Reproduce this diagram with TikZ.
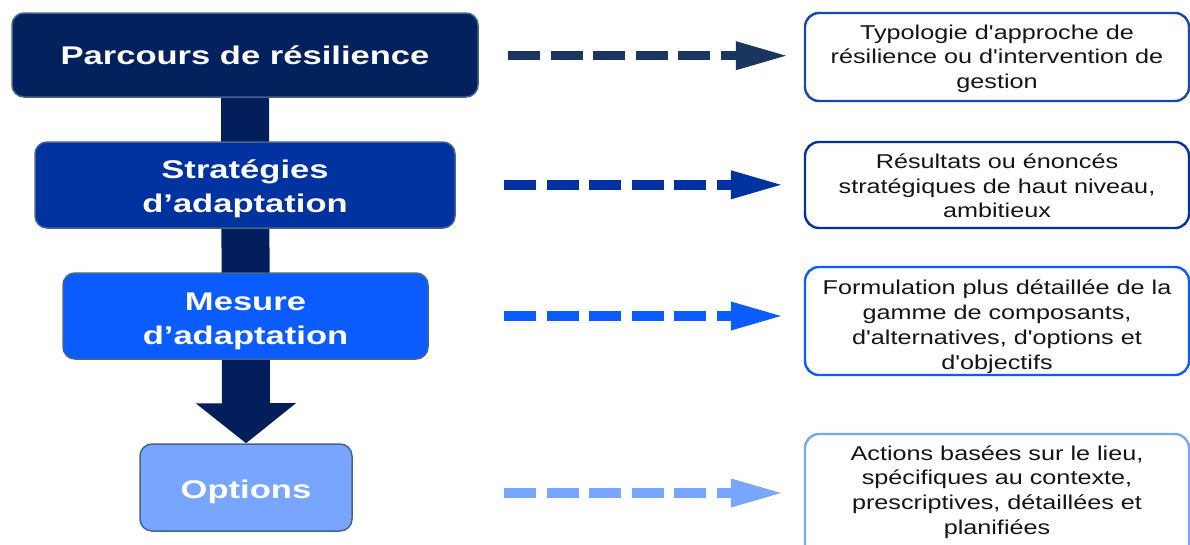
\documentclass[tikz,border=0pt]{standalone}
\usepackage{fontspec}
\setmainfont{Liberation Sans}
\newfontfamily\headfont{Liberation Sans}[FakeStretch=1.35]
\newfontfamily\notefont{Liberation Sans}[FakeStretch=1.26,Ligatures=TeXOff]
\usetikzlibrary{arrows.meta,backgrounds}

\definecolor{shaftcol}{HTML}{021F5B}
\definecolor{stageA}{HTML}{03215D}
\definecolor{stageB}{HTML}{0033A0}
\definecolor{stageC}{HTML}{0A5CFF}
\definecolor{stageD}{HTML}{78A6FF}
\definecolor{stageborder}{HTML}{45648F}
\definecolor{linkA}{HTML}{1A365E}
\definecolor{noteA}{HTML}{1747B0}
\definecolor{noteD}{HTML}{7AA7F7}
\definecolor{notetext}{HTML}{151515}

% invisible rule fixing the height of a first text line
\newcommand\firstline[1]{\rule{0pt}{#1}}

\begin{document}
\begin{tikzpicture}[x=1pt,y=-1pt,
  stage/.style={draw=stageborder, line width=1.5pt, rounded corners=12pt,
    text=white, align=center, inner sep=0pt,
    font=\headfont\bfseries\fontsize{25.6}{34}\selectfont},
  note/.style={draw=#1, line width=2.4pt, rounded corners=14pt, fill=white,
    minimum width=384pt, align=center, inner sep=0pt, text=notetext,
    font=\notefont\fontsize{20}{24.8}\selectfont},
  notetxt/.style={align=center, inner sep=0pt, text=notetext,
    font=\notefont\fontsize{20}{24.8}\selectfont},
  link/.style={draw=#1, line width=9.5pt, dash pattern=on 32pt off 10.6pt,
    -{Triangle[length=53pt,width=26pt]}},
]
\useasboundingbox (0,0) rectangle (1190,544);

% left column: the four stages
\node[stage, fill=stageA, minimum width=466pt, minimum height=84pt] (b1) at (245,55)
  {Parcours de résilience};
\node[stage, fill=stageB, minimum width=420pt, minimum height=86pt] (b2) at (245,185)
  {\firstline{26.5pt}Stratégies\\d’adaptation};
\node[stage, fill=stageC, minimum width=365pt, minimum height=86pt] (b3) at (245.5,316)
  {\firstline{27.4pt}Mesure\\d’adaptation};
\node[stage, fill=stageD, minimum width=212pt, minimum height=87pt] (b4) at (246,487.5)
  {\firstline{26.5pt}Options};

% thick downward arrow behind the stages
\begin{scope}[on background layer]
  \draw[shaftcol, line width=48pt, -{Triangle[length=40pt,width=98pt]}]
    (b1.center) -- (b4.north);
\end{scope}

% right column: descriptions
\node[note=noteA, minimum height=88pt] (r1) at (997,57)
  {\firstline{18pt}Typologie d'approche de\\résilience ou d'intervention de\\gestion};
\node[note=stageB, minimum height=86pt] (r2) at (997,185)
  {\firstline{16.5pt}Résultats ou énoncés\\stratégiques de haut niveau,\\ambitieux};
\node[note=stageC, minimum height=108pt] (r3) at (997,321)
  {\firstline{26pt}Formulation plus détaillée de la\\gamme de composants,\\d'alternatives, d'options et\\d'objectifs};
\node[note=noteD, minimum height=126pt] (r4) at (997,497) {};
\node[notetxt] (r4t) at (997,492)
  {Actions basées sur le lieu,\\spécifiques au contexte,\\prescriptives, détaillées et\\planifiées};

% dashed links
\coordinate (s1) at (508,55.7);
\coordinate (s2) at (504,184.8);
\coordinate (s3) at (504,316);
\coordinate (s4) at (504,493);
\draw[link=linkA, shorten >=15pt] (s1) -- (s1 -| r1.west);
\draw[link=stageB, shorten >=20pt] (s2) -- (s2 -| r2.west);
\draw[link=stageC, shorten >=20pt] (s3) -- (s3 -| r3.west);
\draw[link=stageD, shorten >=20pt] (s4) -- (s4 -| r4.west);
\end{tikzpicture}
\end{document}
